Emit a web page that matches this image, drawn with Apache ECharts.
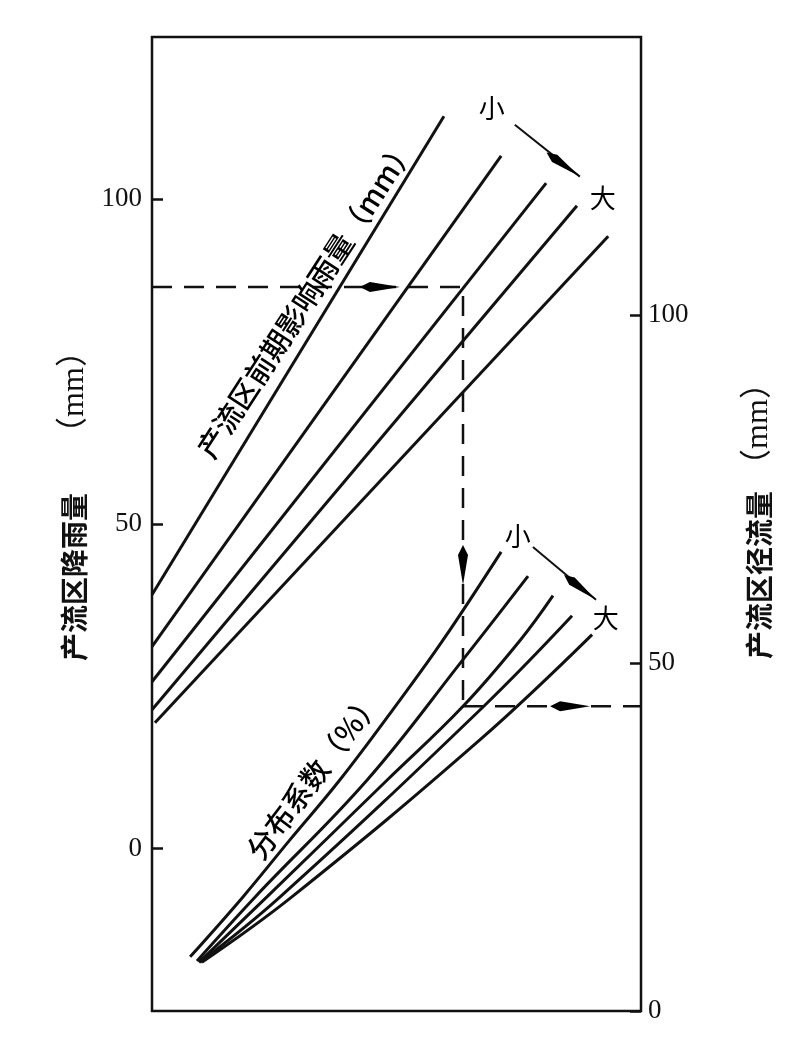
<!DOCTYPE html>
<html>
<head>
<meta charset="utf-8">
<script src="https://cdn.jsdelivr.net/npm/echarts@6/dist/echarts.min.js"></script>
<style>
  html, body { margin: 0; background: #fff; }
  #chart { width: 808px; height: 1050px; }
</style>
</head>
<body>
<div id="chart"></div>
<script>
// x is a bare position across the frame (0..100), no scale is printed for it
// upper family: rainfall vs antecedent rain (left axis, mm)
const rainLine1 = [[0, 39.1], [59.7, 112.8]]
const rainLine2 = [[0, 31.1], [71.4, 106.7]]
const rainLine3 = [[0, 25.7], [80.6, 102.5]]
const rainLine4 = [[0, 21.4], [86.9, 99.0]]
const rainLine5 = [[0.6, 19.4], [93.3, 94.3]]

// lower family: runoff by distribution coefficient (right axis, mm)
const runoffCurve1 = [[7.8, 7.8], [18.6, 16.4], [28.2, 24.6], [38.4, 33.2], [50.7, 44.7], [59.5, 53.3], [71.4, 66.0]]
const runoffCurve2 = [[9.2, 7.2], [21.1, 16.4], [44.0, 33.2], [63.6, 50.5], [76.9, 62.5]]
const runoffCurve3 = [[9.6, 7.0], [23.5, 16.4], [48.1, 33.2], [63.6, 43.8], [75.3, 53.3], [82.0, 59.7]]
const runoffCurve4 = [[9.8, 7.0], [26.2, 16.4], [67.7, 43.7], [85.9, 56.8]]
const runoffCurve5 = [[10.2, 7.0], [28.6, 16.4], [67.1, 39.0], [90.0, 54.1]]

// worked example (dashed)
const guideUpper = [[0, 86.5], [63.6, 86.5], [63.6, 22.0]]   // left axis
const guideLower = [[63.6, 43.8], [100, 43.8]]               // right axis

// arrow heads: axis index, centre, point it heads towards
const guideHeads = [
  { axis: 0, at: [46.6, 86.5], to: [63.6, 86.5] },
  { axis: 0, at: [63.6, 43.7], to: [63.6, 22.0] },
  { axis: 1, at: [85.5, 43.8], to: [100, 43.8] },
]
const trendUpper = [[74.2, 111.5], [87.5, 103.5]]
const trendLower = [[77.9, 66.7], [90.8, 59.1]]
const trendHeads = [
  { axis: 0, at: [84.0, 105.4], to: [87.5, 103.5] },
  { axis: 1, at: [87.5, 60.9], to: [90.8, 59.1] },
]

const leftTicks  = [0, 50, 100]
const rightTicks = [0, 50, 100]

const upperNotes = [
  { value: [31.5, 84.8], text: '产流区前期影响雨量（mm）', rotate: 57 },
  { value: [69.5, 114.1], text: '小', rotate: 0 },
  { value: [92.2, 100.2], text: '大', rotate: 0 },
]
const lowerNotes = [
  { value: [33.1, 33.9], text: '分布系数（%）', rotate: 53 },
  { value: [74.8, 68.3], text: '小', rotate: 0 },
  { value: [92.8, 56.5], text: '大', rotate: 0 },
]

const SERIF = "'Liberation Serif', 'DejaVu Serif', 'Noto Sans CJK SC', serif"
const CJK   = "'Noto Sans CJK SC', sans-serif"
const INK   = '#111'
const HEAD  = 'path://M5,0 L10,30 L5,40 L0,30 Z'

const chart = echarts.init(document.getElementById('chart'))

function solid(data, yIdx, smooth) {
  return {
    type: 'line', data, yAxisIndex: yIdx, smooth: smooth || false,
    symbol: 'none', silent: true,
    lineStyle: { color: INK, width: 3 },
  }
}
function dashed(data, yIdx) {
  return {
    type: 'line', data, yAxisIndex: yIdx, symbol: 'none', silent: true,
    lineStyle: { color: INK, width: 2.5, type: [20, 12] },
  }
}
function notes(items, yIdx) {
  return {
    type: 'scatter', yAxisIndex: yIdx, symbolSize: 0, silent: true, z: 5,
    itemStyle: { opacity: 1 },
    data: items.map(n => ({
      value: n.value,
      label: {
        show: true, position: 'inside', formatter: n.text, rotate: n.rotate,
        fontFamily: CJK, fontSize: n.text.length > 1 ? 29 : 26, color: '#000',
        fontWeight: n.text.length > 1 ? 500 : 'normal',
        textBorderWidth: 0, opacity: 1,
        align: 'center', verticalAlign: 'middle',
      },
    })),
  }
}
function heads(list, rot, size) {
  return list.map((h, i) => ({
    type: 'scatter', yAxisIndex: h.axis, silent: true, z: 6,
    symbol: HEAD, symbolSize: size, symbolRotate: rot ? rot[i] : 0,
    itemStyle: { color: '#000', opacity: 1 },
    data: [h.at],
  }))
}

function build(guideRot, trendRot) {
  return {
    backgroundColor: '#fff',
    animation: false,
    grid: { left: 152, right: 167, top: 37, bottom: 39, show: true, borderColor: INK, borderWidth: 2.5 },
    xAxis: {
      type: 'value', min: 0, max: 100,
      axisLine: { show: false }, axisTick: { show: false },
      axisLabel: { show: false }, splitLine: { show: false },
    },
    yAxis: [
      {
        type: 'value', position: 'left', min: -25, max: 125,
        axisLine: { show: false }, splitLine: { show: false },
        axisTick: { inside: true, length: 11, customValues: leftTicks, lineStyle: { color: INK, width: 2.5 } },
        axisLabel: { customValues: leftTicks, fontFamily: SERIF, fontSize: 27, color: INK, margin: 10 },
        name: '{b|产流区降雨量}{n|（mm）}',
        nameLocation: 'middle', nameRotate: 90, nameGap: 60,
        nameTextStyle: {
          padding: [0, 0, 0, 52],
          rich: {
            b: { fontFamily: CJK, fontWeight: 'bold', fontSize: 28, color: INK },
            n: { fontFamily: SERIF, fontSize: 32, color: INK, padding: [0, 0, 0, 44] },
          },
        },
      },
      {
        type: 'value', position: 'right', min: 0, max: 140,
        axisLine: { show: false }, splitLine: { show: false },
        axisTick: { inside: true, length: 11, customValues: rightTicks, lineStyle: { color: INK, width: 2.5 } },
        axisLabel: { customValues: rightTicks, fontFamily: SERIF, fontSize: 27, color: INK, margin: 7 },
        name: '{b|产流区径流量}{n|（mm）}',
        nameLocation: 'middle', nameRotate: 90, nameGap: 102,
        nameTextStyle: {
          padding: [0, 0, 0, 22],
          rich: {
            b: { fontFamily: CJK, fontWeight: 'bold', fontSize: 28, color: INK },
            n: { fontFamily: SERIF, fontSize: 32, color: INK, padding: [0, 0, 0, 10] },
          },
        },
      },
    ],
    series: [
      solid(rainLine1, 0), solid(rainLine2, 0), solid(rainLine3, 0),
      solid(rainLine4, 0), solid(rainLine5, 0),
      solid(runoffCurve1, 1, 0.4), solid(runoffCurve2, 1, 0.4), solid(runoffCurve3, 1, 0.4),
      solid(runoffCurve4, 1, 0.4), solid(runoffCurve5, 1, 0.4),
      dashed(guideUpper, 0), dashed(guideLower, 1),
      { ...solid(trendUpper, 0), lineStyle: { color: INK, width: 2 } },
      { ...solid(trendLower, 1), lineStyle: { color: INK, width: 2 } },
      ...heads(guideHeads, guideRot, [10, 40]),
      ...heads(trendHeads, trendRot, [9, 40]),
      notes(upperNotes, 0),
      notes(lowerNotes, 1),
    ],
  }
}

chart.setOption(build())

// point each arrow head along its screen direction
function angleOf(h) {
  const a = chart.convertToPixel({ xAxisIndex: 0, yAxisIndex: h.axis }, h.at)
  const b = chart.convertToPixel({ xAxisIndex: 0, yAxisIndex: h.axis }, h.to)
  return Math.atan2(-(b[1] - a[1]), b[0] - a[0]) * 180 / Math.PI - 90
}
chart.setOption(build(guideHeads.map(angleOf), trendHeads.map(angleOf)), true)
</script>
</body>
</html>
